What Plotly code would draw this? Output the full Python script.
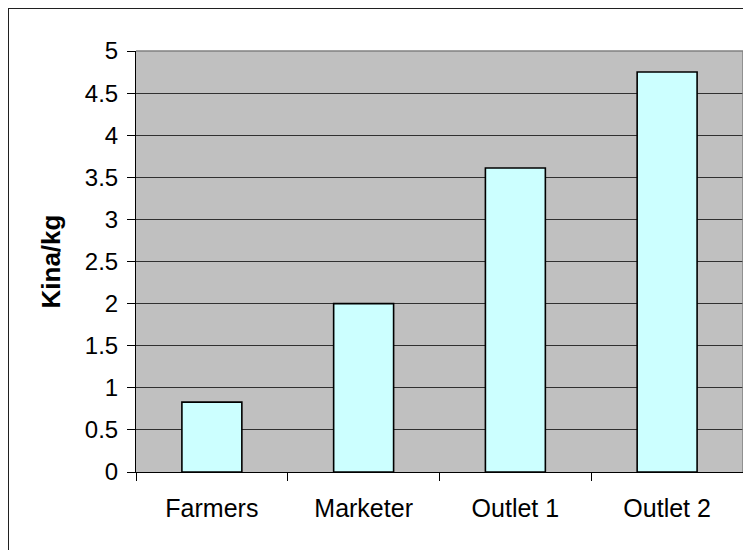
import plotly.graph_objects as go

categories = ["Farmers", "Marketer", "Outlet 1", "Outlet 2"]
values = [0.83, 2.0, 3.61, 4.75]
y_ticks = [0, 0.5, 1, 1.5, 2, 2.5, 3, 3.5, 4, 4.5, 5]
y_title = "Kina/kg"

W, H = 751, 550
# page body has an 8px margin, so figure coords = screenshot coords - 8
L, T = 128, 43
R = W - 735
B = H - 464
pw, ph = W - L - R, H - T - B

fig = go.Figure(go.Bar(
    x=categories, y=values,
    marker=dict(color="#CCFFFF", line=dict(color="black", width=1.6)),
    width=0.395,
))

family = "Liberation Sans, Arial, sans-serif"
yfont = dict(family=family, size=24, color="black")
xfont = dict(family=family, size=25, color="black")

fig.update_layout(
    width=W, height=H,
    margin=dict(l=L, r=R, t=T, b=B, pad=0),
    paper_bgcolor="white", plot_bgcolor="#C0C0C0",
    font=yfont, showlegend=False,
    xaxis=dict(
        type="category", tickson="boundaries", ticks="outside", ticklen=8,
        tickcolor="black", tickwidth=1, showline=True, linecolor="black",
        linewidth=1, showgrid=False, tickfont=xfont, ticklabelstandoff=14,
    ),
    yaxis=dict(
        range=[0, 5], tickvals=y_ticks, ticktext=[f"{v:g}" for v in y_ticks],
        ticks="outside", ticklen=8, tickcolor="black", tickwidth=1,
        showline=True, linecolor="black", linewidth=1,
        showgrid=True, gridcolor="#303030", gridwidth=1, zeroline=False,
        tickfont=yfont, ticklabelstandoff=4,
        title=dict(text=y_title, font=dict(family=family, size=26,
                                           color="black", weight="bold"),
                   standoff=16),
    ),
)

# top and right plot-area border (gray)
fig.add_shape(type="line", xref="paper", yref="paper", x0=0, x1=1, y0=1, y1=1,
              line=dict(color="#808080", width=1.5))
fig.add_shape(type="line", xref="paper", yref="paper", x0=1, x1=1, y0=0, y1=1,
              line=dict(color="#808080", width=1.5))

# outer chart frame around the whole paper
fx = -L / pw
fy = (H - B) / ph
fig.add_shape(type="rect", xref="paper", yref="paper",
              x0=fx, x1=(W - L) / pw, y0=-B / ph, y1=fy,
              line=dict(color="#202020", width=2), fillcolor="rgba(0,0,0,0)")

fig.write_html("out.html")
